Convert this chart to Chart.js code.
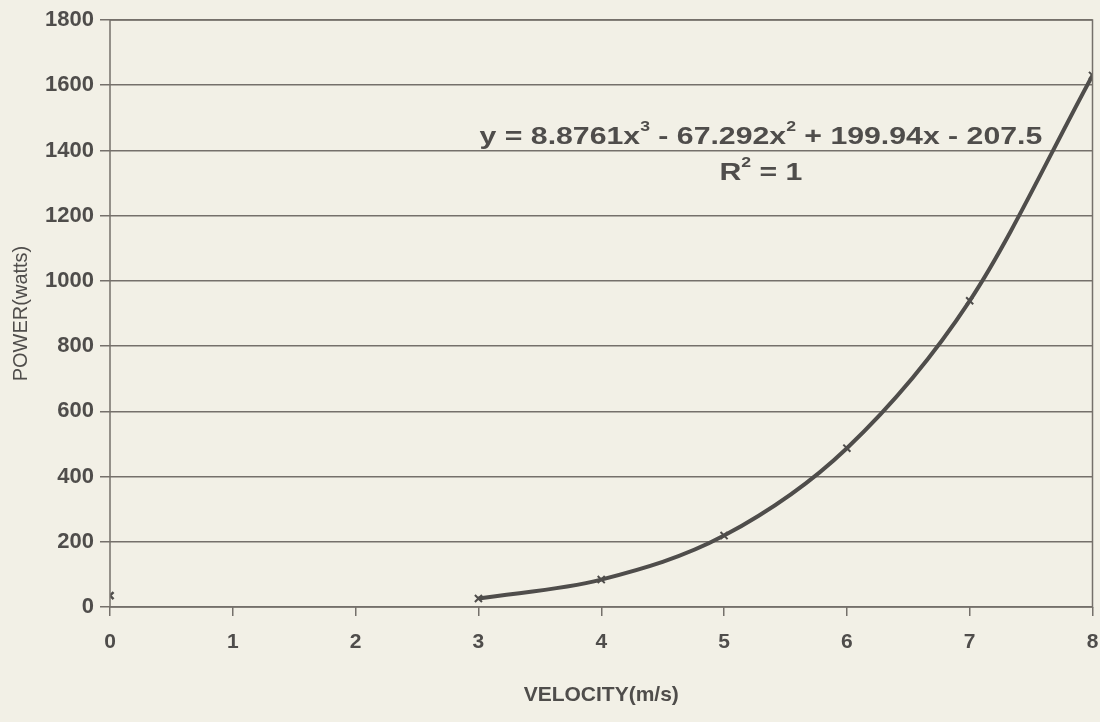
<!DOCTYPE html>
<html>
<head>
<meta charset="utf-8">
<script src="https://cdn.jsdelivr.net/npm/chart.js@4"></script>
<style>
  html, body { margin: 0; padding: 0; background: #f2f0e6; }
  #wrap { width: 1100px; height: 722px; }
</style>
</head>
<body>
<div id="wrap"><canvas id="myChart" width="1100" height="722"></canvas></div>
<script>
// values
const velocity = [3, 4, 5, 6, 7, 8];
const power = [26, 84, 219, 487, 939, 1630];
const strayPoint = [{ x: 0, y: 35 }];
const yTicks = [0, 200, 400, 600, 800, 1000, 1200, 1400, 1600, 1800];
const xTicks = [0, 1, 2, 3, 4, 5, 6, 7, 8];
// trendline label, [text, isSuperscript]
const equation = [['y = 8.8761x', false], ['3', true], [' - 67.292x', false], ['2', true],
                  [' + 199.94x - 207.5', false]];
const rSquared = [['R', false], ['2', true], [' = 1', false]];

const ink = '#4f4d4b';
const gridInk = '#75706b';
const fontFam = '"Liberation Sans", Arial, sans-serif';

function drawRich(ctx, parts, cx, cy) {
    const big = 'bold 24px ' + fontFam, small = 'bold 14px ' + fontFam;
    let w = 0;
    parts.forEach(p => { ctx.font = p[1] ? small : big; w += ctx.measureText(p[0]).width; });
    let x = cx - w / 2;
    parts.forEach(p => {
        ctx.font = p[1] ? small : big;
        ctx.fillText(p[0], x, p[1] ? cy - 10 : cy);
        x += ctx.measureText(p[0]).width;
    });
}

// frame around plot + trendline label
const extras = {
    id: 'extras',
    afterDraw(chart) {
        const { ctx, chartArea: a, scales } = chart;
        ctx.save();
        ctx.strokeStyle = gridInk;
        ctx.lineWidth = 1.5;
        ctx.strokeRect(a.left, a.top, a.right - a.left, a.bottom - a.top);
        ctx.fillStyle = ink;
        ctx.textAlign = 'left';
        ctx.textBaseline = 'middle';
        const cx = scales.x.getPixelForValue(5.3);
        // scanned text is a little wider than the font
        ctx.translate(cx, 0);
        ctx.scale(1.26, 1);
        drawRich(ctx, equation, 0, scales.y.getPixelForValue(1440));
        drawRich(ctx, rSquared, 0, scales.y.getPixelForValue(1330));
        ctx.restore();
    }
};

const ctx = document.getElementById('myChart').getContext('2d');
new Chart(ctx, {
    type: 'scatter',
    data: {
        datasets: [{
            label: 'Power',
            data: velocity.map((v, i) => ({ x: v, y: power[i] })),
            showLine: true,
            tension: 0.4,
            cubicInterpolationMode: 'monotone',
            borderColor: ink,
            borderWidth: 4,
            pointStyle: 'crossRot',
            pointRadius: 5,
            pointBorderWidth: 2,
            pointBorderColor: ink,
            pointBackgroundColor: ink
        }, {
            label: 'stray',
            data: strayPoint,
            showLine: false,
            pointStyle: 'crossRot',
            pointRadius: 5,
            pointBorderWidth: 2.5,
            pointBorderColor: ink
        }]
    },
    options: {
        responsive: false,
        animation: false,
        layout: { padding: { top: 20, right: 0, left: 5, bottom: 10 } },
        plugins: {
            legend: { display: false },
            tooltip: { enabled: false }
        },
        scales: {
            x: {
                type: 'linear',
                min: 0,
                max: 8,
                afterBuildTicks: s => { s.ticks = xTicks.map(v => ({ value: v })); },
                grid: {
                    drawOnChartArea: false,
                    drawTicks: true,
                    tickLength: 9,
                    color: gridInk,
                    lineWidth: 1.5
                },
                border: { display: false },
                ticks: {
                    color: ink,
                    padding: 14,
                    callback: v => String(v),
                    font: { family: fontFam, size: 21, weight: 'bold' }
                },
                title: {
                    display: true,
                    text: 'VELOCITY(m/s)',
                    color: ink,
                    padding: { top: 16 },
                    font: { family: fontFam, size: 21, weight: 'bold' }
                },
                afterFit: s => { s.height = 105; s.paddingRight = 0; s.paddingLeft = 0; }
            },
            y: {
                min: 0,
                max: 1800,
                afterBuildTicks: s => { s.ticks = yTicks.map(v => ({ value: v })); },
                grid: {
                    color: gridInk,
                    lineWidth: 1.5,
                    tickLength: 10
                },
                border: { display: false },
                ticks: {
                    color: ink,
                    padding: 6,
                    callback: v => String(v),
                    font: { family: fontFam, size: 22, weight: 'bold' }
                },
                title: {
                    display: true,
                    text: 'POWER(watts)',
                    color: ink,
                    padding: { bottom: 8 },
                    font: { family: fontFam, size: 20 }
                },
                afterFit: s => { s.width = 105; }
            }
        }
    },
    plugins: [extras]
});
</script>
</body>
</html>
